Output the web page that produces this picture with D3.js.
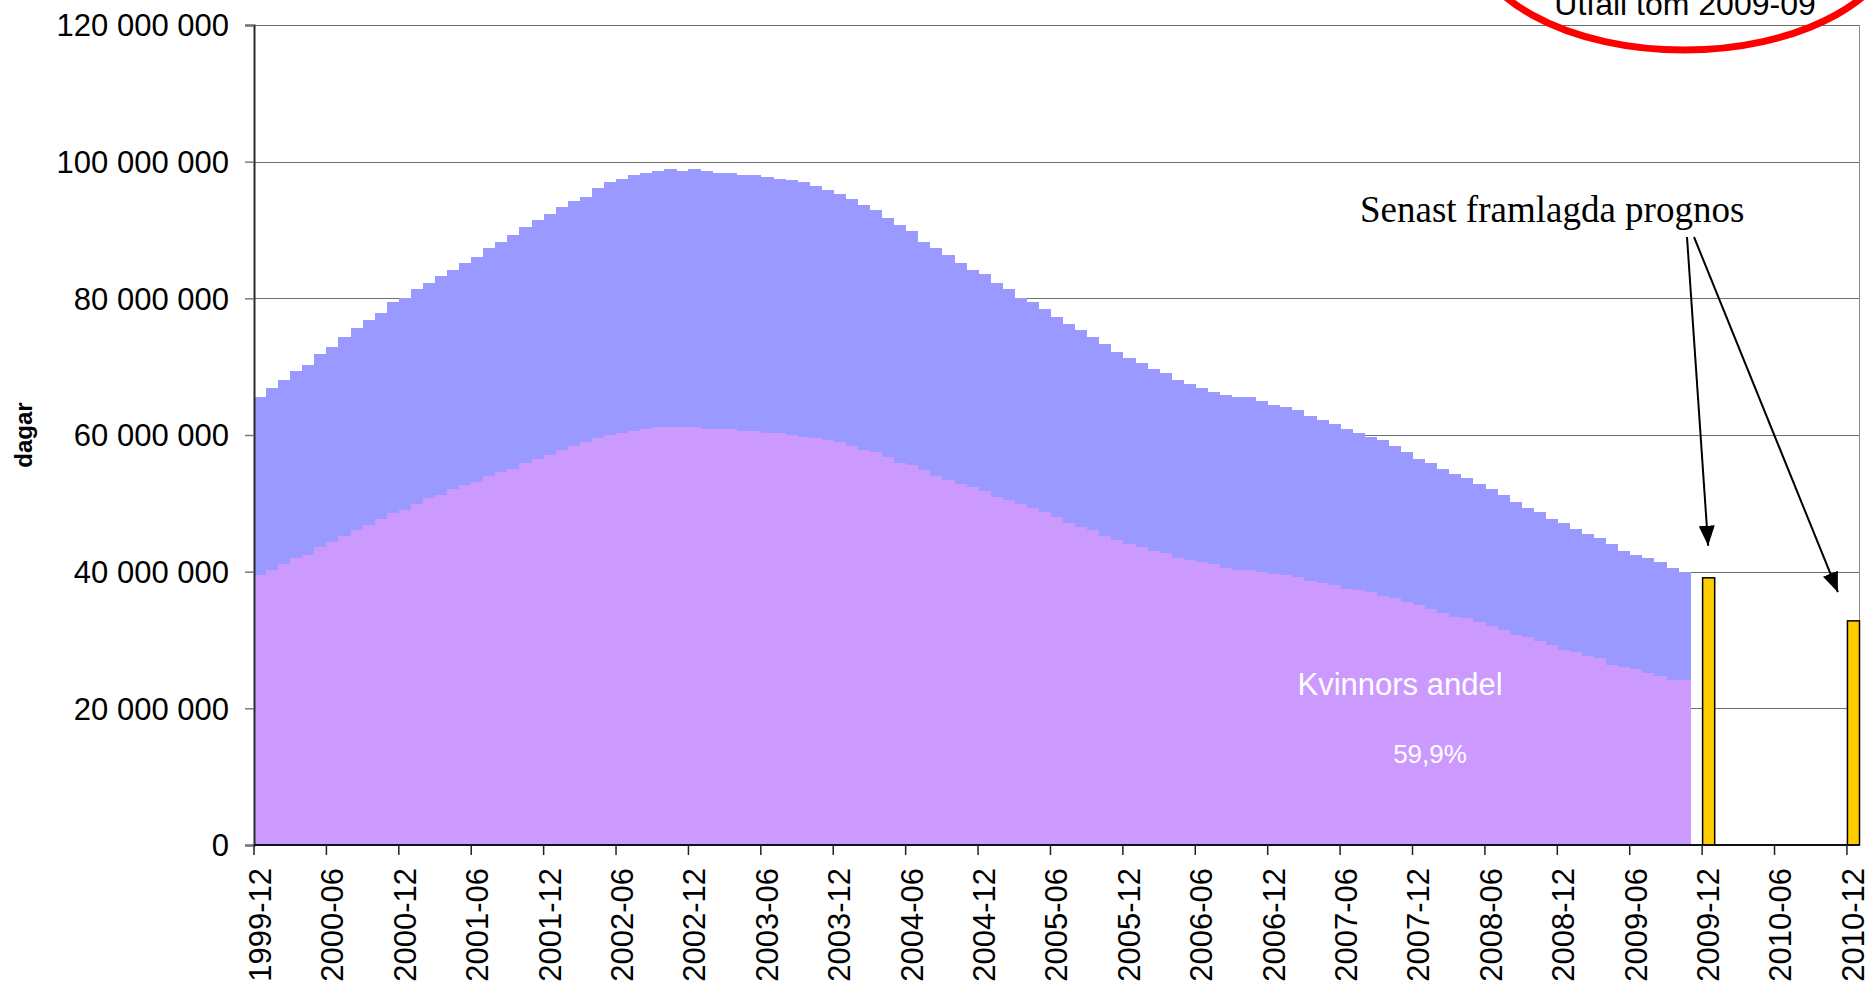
<!DOCTYPE html>
<html>
<head>
<meta charset="utf-8">
<script src="https://cdn.jsdelivr.net/npm/d3@7"></script>
<style>
  html, body { margin: 0; padding: 0; background: #fff; }
  svg { display: block; }
  text { font-family: "Liberation Sans", Arial, sans-serif; }
</style>
</head>
<body>
<div id="chart"></div>
<script>
// monthly outcome, million days (total = blue, women = purple)
const total = [
  65.6, 66.9, 68.1, 69.4, 70.3, 71.9, 72.9, 74.4, 75.7, 76.9, 77.9, 79.4,
  80.1, 81.3, 82.3, 83.2, 84.2, 85.1, 86.1, 87.3, 88.3, 89.2, 90.4, 91.4,
  92.3, 93.3, 94.2, 94.9, 96.1, 97.0, 97.4, 98.0, 98.3, 98.6, 98.9, 98.6,
  98.9, 98.6, 98.3, 98.3, 98.0, 98.0, 97.7, 97.4, 97.3, 97.0, 96.4, 95.8,
  95.2, 94.5, 93.6, 92.9, 91.7, 90.7, 89.8, 88.3, 87.3, 86.4, 85.1, 84.2,
  83.5, 82.3, 81.3, 80.1, 79.5, 78.5, 77.3, 76.3, 75.3, 74.4, 73.3, 72.2,
  71.3, 70.6, 69.7, 69.1, 68.1, 67.5, 66.9, 66.3, 65.9, 65.6, 65.6, 65.0,
  64.4, 64.1, 63.7, 62.8, 62.2, 61.6, 60.9, 60.3, 59.7, 59.3, 58.4, 57.5,
  56.5, 55.9, 55.0, 54.3, 53.7, 52.8, 52.1, 51.2, 50.2, 49.3, 48.7, 47.7,
  47.1, 46.2, 45.5, 44.9, 44.0, 43.0, 42.4, 42.0, 41.4, 40.5, 40.0
]
const women = [
  39.5, 40.2, 41.1, 42.0, 42.4, 43.6, 44.3, 45.2, 46.1, 46.8, 47.7, 48.6,
  49.0, 49.9, 50.8, 51.2, 52.1, 52.7, 53.1, 54.0, 54.6, 55.0, 55.9, 56.5,
  57.1, 57.8, 58.4, 59.0, 59.6, 60.0, 60.3, 60.6, 60.9, 61.2, 61.2, 61.2,
  61.2, 60.9, 60.9, 60.9, 60.6, 60.6, 60.3, 60.3, 60.0, 59.7, 59.6, 59.3,
  59.0, 58.4, 57.8, 57.5, 56.8, 55.9, 55.6, 54.9, 54.0, 53.4, 52.8, 52.4,
  51.8, 50.9, 50.5, 49.9, 49.3, 48.7, 48.0, 47.1, 46.5, 46.1, 45.2, 44.6,
  44.0, 43.6, 43.0, 42.7, 42.0, 41.7, 41.4, 41.1, 40.5, 40.2, 40.2, 39.9,
  39.6, 39.5, 39.2, 38.6, 38.3, 38.0, 37.4, 37.3, 37.0, 36.4, 36.1, 35.5,
  35.1, 34.5, 33.9, 33.3, 33.2, 32.6, 32.0, 31.4, 30.7, 30.4, 29.8, 29.2,
  28.6, 28.2, 27.6, 27.3, 26.4, 26.0, 25.7, 25.1, 24.8, 24.2, 24.1
]
const prognosMonths = ["2009-12", "2010-12"]
const prognosValues = [39.1, 32.8]
const yTicks = [0, 20, 40, 60, 80, 100, 120]

// category axis: every month 1999-12 .. 2010-12
const months = ["1999-12"]
for (let yr = 2000; yr <= 2010; yr++) {
  for (let m = 1; m <= 12; m++) months.push(`${yr}-${String(m).padStart(2, "0")}`)
}
const tickMonths = months.filter((d, i) => i % 6 == 0)

const W = 1870, H = 989
const mLeft = 254, mRight = 1859, mTop = 25, mBottom = 845

const svg = d3.select("#chart").append("svg")
    .attr("width", W)
    .attr("height", H)

const x = d3.scaleBand().domain(months).range([mLeft, mRight]).padding(0)
const y = d3.scaleLinear().domain([0, 120]).range([mBottom, mTop])
const bw = x.bandwidth()

const fmt = d3.formatLocale({decimal: ",", thousands: "\u00a0", grouping: [3], currency: ["", ""]}).format(",")

// gridlines
svg.append("g")
    .attr("stroke", "#6e6e6e")
    .attr("stroke-width", 1)
    .selectAll("line")
    .data(yTicks.filter(d => d > 0))
    .join("line")
    .attr("x1", mLeft).attr("x2", mRight)
    .attr("y1", d => Math.round(y(d)) + 0.5)
    .attr("y2", d => Math.round(y(d)) + 0.5)

// plot area right border
svg.append("line")
    .attr("x1", mRight + 0.5).attr("x2", mRight + 0.5)
    .attr("y1", mTop).attr("y2", mBottom)
    .attr("stroke", "#8c8c8c")

// total bars
svg.append("g")
    .attr("fill", "#9999ff")
    .attr("shape-rendering", "crispEdges")
    .selectAll("rect")
    .data(total)
    .join("rect")
    .attr("x", (d, i) => x(months[i]))
    .attr("width", bw + 0.6)
    .attr("y", d => y(d))
    .attr("height", d => y(0) - y(d))

// women bars, drawn over the total
svg.append("g")
    .attr("fill", "#cc99ff")
    .attr("shape-rendering", "crispEdges")
    .selectAll("rect")
    .data(women)
    .join("rect")
    .attr("x", (d, i) => x(months[i]))
    .attr("width", bw + 0.6)
    .attr("y", d => y(d))
    .attr("height", d => y(0) - y(d))

// latest forecast bars
svg.append("g")
    .attr("fill", "#ffcc00")
    .attr("stroke", "#000")
    .attr("stroke-width", 1.5)
    .selectAll("rect")
    .data(prognosValues)
    .join("rect")
    .attr("x", (d, i) => x(prognosMonths[i]) + 0.5)
    .attr("width", bw)
    .attr("y", d => y(d))
    .attr("height", d => y(0) - y(d))

// y axis
const yAxis = svg.append("g")
    .attr("transform", `translate(${mLeft},0)`)
    .call(d3.axisLeft(y).tickValues(yTicks).tickSize(9).tickPadding(16)
        .tickFormat(d => fmt(d * 1e6)))
yAxis.select(".domain").attr("stroke", "#2a2a2a").attr("stroke-width", 2)
yAxis.selectAll(".tick line").attr("stroke", "#7a7a7a").attr("stroke-width", 1.5)
yAxis.selectAll(".tick text")
    .attr("font-size", 31)
    .attr("fill", "#000")
    .attr("dy", "0.35em")

// x axis: ticks at category edges, labels at category centres
svg.append("line")
    .attr("x1", mLeft).attr("x2", mRight)
    .attr("y1", mBottom).attr("y2", mBottom)
    .attr("stroke", "#111").attr("stroke-width", 2)

svg.append("g")
    .attr("stroke", "#222")
    .attr("stroke-width", 1.5)
    .selectAll("line")
    .data(tickMonths)
    .join("line")
    .attr("x1", d => x(d)).attr("x2", d => x(d))
    .attr("y1", mBottom).attr("y2", mBottom + 10)

svg.append("g")
    .selectAll("text")
    .data(tickMonths)
    .join("text")
    .attr("transform", d => `translate(${x(d) + bw / 2},${mBottom + 23}) rotate(-90)`)
    .attr("text-anchor", "end")
    .attr("dy", "0.35em")
    .attr("font-size", 31)
    .text(d => d)

// y axis title
svg.append("text")
    .attr("transform", "translate(24,435) rotate(-90)")
    .attr("text-anchor", "middle")
    .attr("dy", "0.35em")
    .attr("font-size", 24)
    .attr("font-weight", "bold")
    .text("dagar")

// labels inside the women area
svg.append("text")
    .attr("x", 1400).attr("y", 695)
    .attr("text-anchor", "middle")
    .attr("font-size", 31)
    .attr("fill", "#fff")
    .text("Kvinnors andel")

svg.append("text")
    .attr("x", 1430).attr("y", 763)
    .attr("text-anchor", "middle")
    .attr("font-size", 26)
    .attr("fill", "#fff")
    .text("59,9%")

// red ellipse with caption (cut by the top edge, as in the original)
svg.append("text")
    .attr("x", 1685).attr("y", 15)
    .attr("text-anchor", "middle")
    .attr("font-size", 32)
    .text("Utfall tom 2009-09")

svg.append("ellipse")
    .attr("cx", 1684).attr("cy", -70)
    .attr("rx", 215).attr("ry", 120)
    .attr("fill", "none")
    .attr("stroke", "#ff0000")
    .attr("stroke-width", 7)

// forecast annotation with arrows
svg.append("text")
    .attr("x", 1360).attr("y", 222)
    .style("font-family", "'Liberation Serif', 'Times New Roman', serif")
    .attr("font-size", 37)
    .text("Senast framlagda prognos")

svg.append("defs").append("marker")
    .attr("id", "arrow")
    .attr("viewBox", "0 0 10 8")
    .attr("refX", 10).attr("refY", 4)
    .attr("markerWidth", 10).attr("markerHeight", 8)
    .attr("markerUnits", "strokeWidth")
    .attr("orient", "auto")
  .append("path")
    .attr("d", "M0,0L10,4L0,8Z")
    .attr("fill", "#000")

// start point under the text, end point just above each forecast bar
const arrows = [
    [[1687, 237], [prognosMonths[0], prognosValues[0] + 4.7]],
    [[1694, 237], [prognosMonths[1], prognosValues[1] + 4.2]]
]
svg.append("g")
    .selectAll("line")
    .data(arrows)
    .join("line")
    .attr("x1", d => d[0][0]).attr("y1", d => d[0][1])
    .attr("x2", (d, i) => x(d[1][0]) + (i == 0 ? bw / 2 : -9))
    .attr("y2", d => y(d[1][1]))
    .attr("stroke", "#000")
    .attr("stroke-width", 2)
    .attr("marker-end", "url(#arrow)")
</script>
</body>
</html>
